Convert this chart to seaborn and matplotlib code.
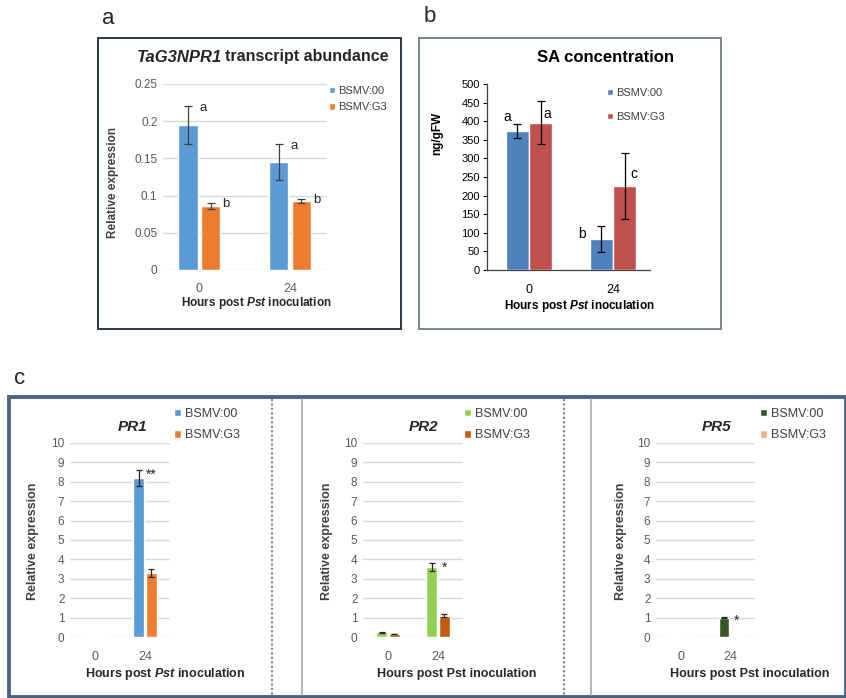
import matplotlib
matplotlib.use("Agg")
import matplotlib.pyplot as plt
from matplotlib.patches import Rectangle
from matplotlib.lines import Line2D
import seaborn as sns
import pandas as pd

# ---------------- data ----------------
hours = ["0", "24"]
groups = ["BSMV:00", "BSMV:G3"]

npr1_00 = [0.195, 0.145]
npr1_00_err = [0.025, 0.024]
npr1_g3 = [0.086, 0.093]
npr1_g3_err = [0.004, 0.003]
npr1_00_letters = ["a", "a"]
npr1_g3_letters = ["b", "b"]

sa_00 = [373, 84]
sa_00_err = [19, 35]
sa_g3 = [396, 226]
sa_g3_err = [57, 89]
sa_00_letters = ["a", "b"]
sa_g3_letters = ["a", "c"]

pr1_00 = [0.07, 8.2]
pr1_00_err = [0.0, 0.4]
pr1_g3 = [0.07, 3.3]
pr1_g3_err = [0.0, 0.2]
pr1_stars = ["", "**"]

pr2_00 = [0.25, 3.6]
pr2_00_err = [0.03, 0.2]
pr2_g3 = [0.15, 1.1]
pr2_g3_err = [0.02, 0.06]
pr2_stars = ["", "*"]

pr5_00 = [0.04, 1.0]
pr5_00_err = [0.0, 0.04]
pr5_g3 = [0.04, 0.04]
pr5_g3_err = [0.0, 0.0]
pr5_stars = ["", "*"]

npr1_ticks = [0, 0.05, 0.1, 0.15, 0.2, 0.25]
sa_ticks = list(range(0, 501, 50))
pr_ticks = list(range(0, 11))

# ---------------- style ----------------
sns.set_style("white")
plt.rcParams["font.family"] = ["Liberation Sans", "DejaVu Sans"]
plt.rcParams["mathtext.fontset"] = "custom"
plt.rcParams["mathtext.it"] = "Liberation Sans:italic:bold"
plt.rcParams["mathtext.bf"] = "Liberation Sans:bold"
plt.rcParams["mathtext.rm"] = "Liberation Sans"

W, H = 846, 698
fig = plt.figure(figsize=(W / 100, H / 100), dpi=100)
fig.patch.set_facecolor("white")


def fx(x):
    return x / W


def fy(y):
    return 1 - y / H


def add_axes(x0, y0, x1, y1):
    return fig.add_axes([fx(x0), fy(y1), (x1 - x0) / W, (y1 - y0) / H])


def frame(x0, y0, x1, y1, color, lw):
    fig.add_artist(Rectangle((fx(x0), fy(y1)), (x1 - x0) / W, (y1 - y0) / H,
                             transform=fig.transFigure, fill=False,
                             edgecolor=color, linewidth=lw))


def make_df(v0, v1):
    return pd.DataFrame({
        "hour": hours + hours,
        "group": [groups[0]] * 2 + [groups[1]] * 2,
        "value": v0 + v1,
    })


def bars(ax, v0, v1, colors, width, gap, errs, ecolor, capsize, elw):
    sns.barplot(data=make_df(v0, v1), x="hour", y="value", hue="group",
                palette=colors, width=width, gap=gap, errorbar=None,
                saturation=1, ax=ax, legend=True, zorder=3)
    centers = []
    for cont, vals, err in zip(ax.containers, [v0, v1], errs):
        xs = [b.get_x() + b.get_width() / 2 for b in cont]
        centers.append(xs)
        xe = [x for x, e in zip(xs, err) if e > 0]
        ve = [v for v, e in zip(vals, err) if e > 0]
        ee = [e for e in err if e > 0]
        if ee:
            ax.errorbar(xe, ve, yerr=ee, fmt="none", ecolor=ecolor,
                        elinewidth=elw, capsize=capsize, capthick=elw, zorder=4)
    return centers


def legend(ax, x, y, fs, spacing, tcolor="#404040"):
    h, l = ax.get_legend_handles_labels()
    ax.legend(h, l, loc="upper left", bbox_to_anchor=(fx(x), fy(y)),
              bbox_transform=fig.transFigure, frameon=False, fontsize=fs,
              handlelength=0.55, handleheight=0.55, handletextpad=0.3,
              labelspacing=spacing, borderpad=0, borderaxespad=0,
              labelcolor=tcolor)


def excel_style(ax, ticks, fs, labels=None):
    ax.set_ylim(ticks[0], ticks[-1])
    ax.set_yticks(ticks)
    ax.set_yticklabels(labels if labels else [f"{t:g}" for t in ticks])
    for s in ax.spines.values():
        s.set_visible(False)
    ax.yaxis.grid(True, color="#d9d9d9", linewidth=1.0, zorder=0)
    ax.set_axisbelow(True)
    ax.tick_params(axis="both", length=0, labelsize=fs, colors="#595959", pad=4)
    ax.set_xlabel("")
    ax.set_ylabel("")
    ax.set_facecolor("none")


# ---------------- panel a ----------------
frame(98, 38, 401, 329, "#2b3646", 1.4)
fig.text(fx(108), fy(18), "a", fontsize=16, ha="center", va="center")
axa = add_axes(163, 84, 327, 270)
ca = bars(axa, npr1_00, npr1_g3, ["#5b9bd5", "#ed7d31"], 0.5, 0.15,
          [npr1_00_err, npr1_g3_err], "#404040", 3, 0.9)
axa.set_xlim(-0.40, 1.41)
excel_style(axa, npr1_ticks, 8.5)
axa.tick_params(axis="x", labelsize=9, pad=9)
legend(axa, 329, 86, 8, 0.55)
for xs, vals, errs, lets in [(ca[0], npr1_00, npr1_00_err, npr1_00_letters),
                             (ca[1], npr1_g3, npr1_g3_err, npr1_g3_letters)]:
    for x, v, e, t in zip(xs, vals, errs, lets):
        axa.annotate(t, (x, v + e), xytext=(11, -1), textcoords="offset points",
                     ha="center", va="center", fontsize=9.5, color="#262626")
fig.text(fx(222), fy(57), "TaG3NPR1", fontsize=12, fontweight="bold",
         fontstyle="italic", ha="right", va="center", color="#262626")
fig.text(fx(225), fy(57), "transcript abundance", fontsize=11.5,
         fontweight="bold", ha="left", va="center", color="#262626")
fig.text(fx(113), fy(183), "Relative expression", rotation=90, fontsize=8.5,
         fontweight="bold", ha="center", va="center", color="#404040")
fig.text(fx(256), fy(303), r"Hours post $\it{Pst}$ inoculation", fontsize=8.5,
         fontweight="bold", ha="center", va="center", color="#262626")

# ---------------- panel b ----------------
frame(419, 38, 721, 329, "#7b858c", 1.4)
fig.text(fx(430), fy(17), "b", fontsize=16, ha="center", va="center")
axb = add_axes(487, 84, 650, 270)
cb = bars(axb, sa_00, sa_g3, ["#4f81bd", "#c0504d"], 0.55, 0.0,
          [sa_00_err, sa_g3_err], "black", 3, 0.9)
axb.set_xlim(-0.5, 1.44)
axb.set_ylim(0, 500)
axb.set_yticks(sa_ticks)
axb.set_xlabel("")
axb.set_ylabel("")
axb.set_facecolor("none")
for s in ["top", "right"]:
    axb.spines[s].set_visible(False)
for s in ["left", "bottom"]:
    axb.spines[s].set_color("#404040")
    axb.spines[s].set_linewidth(0.9)
axb.tick_params(axis="y", length=3, width=0.8, direction="out", labelsize=8,
                colors="black", pad=2, left=True)
axb.tick_params(axis="x", length=0, labelsize=9, colors="black", pad=10)
legend(axb, 607, 88, 8, 1.25)
offs_b = [[(-7, 5), (-14, -6)], [(5, -9), (7, -15)]]
for k, (xs, vals, errs, lets) in enumerate(
        [(cb[0], sa_00, sa_00_err, sa_00_letters),
         (cb[1], sa_g3, sa_g3_err, sa_g3_letters)]):
    for j, (x, v, e, t) in enumerate(zip(xs, vals, errs, lets)):
        axb.annotate(t, (x, v + e), xytext=offs_b[k][j],
                     textcoords="offset points", ha="center", va="center",
                     fontsize=10, color="black")
fig.text(fx(605), fy(58), "SA concentration", fontsize=12, fontweight="bold",
         ha="center", va="center", color="black")
fig.text(fx(437), fy(133), "ng/gFW", rotation=90, fontsize=8.5,
         fontweight="bold", ha="center", va="center", color="black")
fig.text(fx(579), fy(306), r"Hours post $\it{Pst}$ inoculation", fontsize=8.5,
         fontweight="bold", ha="center", va="center", color="black")

# ---------------- panel c ----------------
fig.text(fx(20), fy(379), "c", fontsize=16, ha="center", va="center")
frame(9, 397, 846, 697, "#4a6584", 2.8)
for xd in [272, 564]:
    fig.add_artist(Line2D([fx(xd), fx(xd)], [fy(399), fy(695)],
                          transform=fig.transFigure, color="#8c8c8c",
                          linewidth=1.6, linestyle=(0, (1, 1))))
for xs_ in [302, 591]:
    fig.add_artist(Line2D([fx(xs_), fx(xs_)], [fy(399), fy(695)],
                          transform=fig.transFigure, color="#a8a8a8",
                          linewidth=1.2))

pr_specs = [
    dict(x0=70, x1=170, v0=pr1_00, v1=pr1_g3, e0=pr1_00_err, e1=pr1_g3_err,
         colors=["#5b9bd5", "#ed7d31"], stars=pr1_stars, title="PR1",
         tx=133, leg=174, ylab=33, xlab=165,
         xl=r"Hours post $\it{Pst}$ inoculation"),
    dict(x0=363, x1=463, v0=pr2_00, v1=pr2_g3, e0=pr2_00_err, e1=pr2_g3_err,
         colors=["#92d050", "#c55a11"], stars=pr2_stars, title="PR2",
         tx=424, leg=464, ylab=327, xlab=457,
         xl="Hours post Pst inoculation"),
    dict(x0=656, x1=755, v0=pr5_00, v1=pr5_g3, e0=pr5_00_err, e1=pr5_g3_err,
         colors=["#375623", "#f4b183"], stars=pr5_stars, title="PR5",
         tx=717, leg=760, ylab=621, xlab=750,
         xl="Hours post Pst inoculation"),
]
for sp in pr_specs:
    ax = add_axes(sp["x0"], 443, sp["x1"], 637)
    cc = bars(ax, sp["v0"], sp["v1"], sp["colors"], 0.5, 0.15,
              [sp["e0"], sp["e1"]], "#262626", 2.5, 0.9)
    ax.set_xlim(-0.5, 1.5)
    excel_style(ax, pr_ticks, 8.5)
    ax.tick_params(axis="x", labelsize=9, pad=10)
    legend(ax, sp["leg"], 408, 9, 0.75)
    for x, v, e, t in zip(cc[0], sp["v0"], sp["e0"], sp["stars"]):
        if t:
            ax.annotate(t, (x, v + e), xytext=(9, -3),
                        textcoords="offset points", ha="center", va="center",
                        fontsize=10, color="#262626")
    fig.text(fx(sp["tx"]), fy(427), sp["title"], fontsize=11,
             fontweight="bold", fontstyle="italic", ha="center", va="center",
             color="#262626")
    fig.text(fx(sp["ylab"]), fy(541), "Relative expression", rotation=90,
             fontsize=9, fontweight="bold", ha="center", va="center",
             color="#404040")
    fig.text(fx(sp["xlab"]), fy(674), sp["xl"], fontsize=9,
             fontweight="bold", ha="center", va="center", color="#262626")

fig.savefig("out.png", dpi=100)
